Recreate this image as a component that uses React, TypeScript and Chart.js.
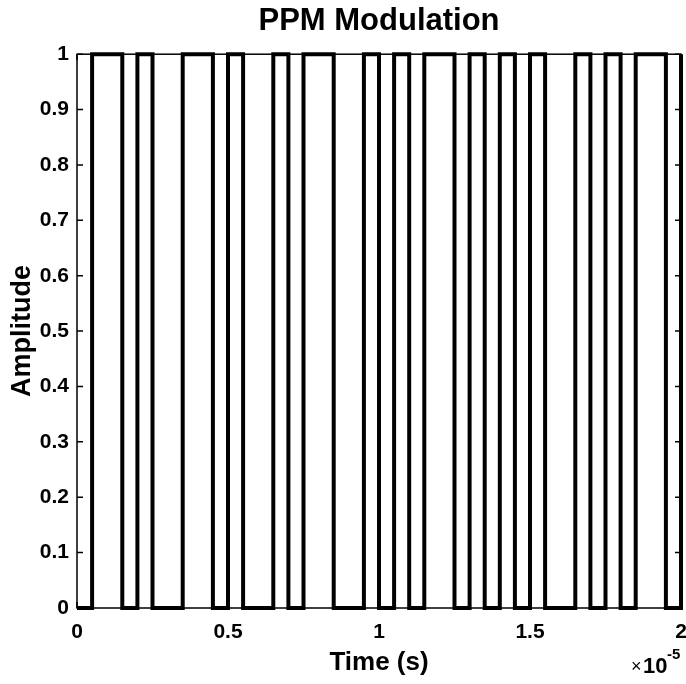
import React, { useEffect, useRef } from "react";
import { Chart, registerables } from "chart.js";

Chart.register(...registerables);

// Pulse edges, in microseconds
const pulseStarts = [0.5, 2, 3.5, 5, 6.5, 7.5, 9.5, 10.5, 11.5, 13, 14, 15, 16.5, 17.5, 18.5];
const pulseEnds = [1.5, 2.5, 4.5, 5.5, 7, 8.5, 10, 11, 12.5, 13.5, 14.5, 15.5, 17, 18, 19.5];
const finalRise = 20;
const xTicks = [0, 0.5, 1, 1.5, 2];
const yTicks = [0, 0.1, 0.2, 0.3, 0.4, 0.5, 0.6, 0.7, 0.8, 0.9, 1];

const FONT = "'Liberation Sans', Arial, Helvetica, sans-serif";

function buildPoints() {
  const pts: { x: number; y: number }[] = [{ x: 0, y: 0 }];
  for (let i = 0; i < pulseStarts.length; i++) {
    const s = pulseStarts[i] / 10;
    const e = pulseEnds[i] / 10;
    pts.push({ x: s, y: 0 }, { x: s, y: 1 }, { x: e, y: 1 }, { x: e, y: 0 });
  }
  pts.push({ x: finalRise / 10, y: 0 }, { x: finalRise / 10, y: 1 });
  return pts;
}

const fmt = (v: number) => String(Math.round(v * 10) / 10);

const boxPlugin = {
  id: "matlabBox",
  afterDraw(chart: any) {
    const { ctx, chartArea, scales } = chart;
    const { left, right, top, bottom } = chartArea;
    ctx.save();
    ctx.strokeStyle = "#000";
    ctx.lineWidth = 1.5;
    ctx.strokeRect(left, top, right - left, bottom - top);
    const tl = 6;
    ctx.beginPath();
    for (const v of xTicks) {
      const px = scales.x.getPixelForValue(v);
      ctx.moveTo(px, bottom);
      ctx.lineTo(px, bottom - tl);
      ctx.moveTo(px, top);
      ctx.lineTo(px, top + tl);
    }
    for (const v of yTicks) {
      const py = scales.y.getPixelForValue(v);
      ctx.moveTo(left, py);
      ctx.lineTo(left + tl, py);
      ctx.moveTo(right, py);
      ctx.lineTo(right - tl, py);
    }
    ctx.stroke();
    // exponent label
    ctx.fillStyle = "#000";
    ctx.textBaseline = "alphabetic";
    ctx.textAlign = "left";
    ctx.font = `18px ${FONT}`;
    ctx.fillText("\u00d7", right - 50, 672);
    ctx.font = `bold 22px ${FONT}`;
    ctx.fillText("10", right - 38, 673);
    ctx.font = `bold 15px ${FONT}`;
    ctx.fillText("-5", right - 14, 659);
    ctx.restore();
  },
};

export default function App() {
  const ref = useRef<HTMLCanvasElement>(null);
  useEffect(() => {
    if (!ref.current) return;
    const chart = new Chart(ref.current, {
      type: "line",
      data: {
        datasets: [
          {
            data: buildPoints(),
            borderColor: "#000",
            borderWidth: 4,
            pointRadius: 0,
            tension: 0,
            fill: false,
            clip: 6,
          },
        ],
      },
      options: {
        animation: false,
        responsive: false,
        parsing: false as any,
        layout: { padding: { left: 0, right: 5, top: 0, bottom: 0 } },
        plugins: {
          legend: { display: false },
          tooltip: { enabled: false },
          title: {
            display: true,
            text: "PPM Modulation",
            color: "#000",
            fullSize: false,
            font: { family: FONT, size: 31, weight: "bold" },
            padding: { top: 3, bottom: 14 },
          },
        },
        scales: {
          x: {
            type: "linear",
            min: 0,
            max: 2,
            afterFit: (s: any) => {
              s.height = 76;
              s.paddingLeft = 0;
              s.paddingRight = 0;
            },
            afterBuildTicks: (s: any) => {
              s.ticks = xTicks.map((v) => ({ value: v }));
            },
            ticks: {
              color: "#000",
              padding: 12,
              maxRotation: 0,
              callback: (v: any) => fmt(Number(v)),
              font: { family: FONT, size: 21, weight: "bold" },
            },
            grid: { display: false, drawTicks: false },
            border: { display: false },
            title: {
              display: true,
              text: "Time (s)",
              color: "#000",
              font: { family: FONT, size: 26, weight: "bold" },
              padding: { top: 0, bottom: 6 },
            },
          },
          y: {
            type: "linear",
            min: 0,
            max: 1,
            afterFit: (s: any) => {
              s.width = 77;
              s.paddingTop = 0;
              s.paddingBottom = 0;
            },
            afterBuildTicks: (s: any) => {
              s.ticks = yTicks.map((v) => ({ value: v }));
            },
            ticks: {
              color: "#000",
              padding: 8,
              callback: (v: any) => fmt(Number(v)),
              font: { family: FONT, size: 21, weight: "bold" },
            },
            grid: { display: false, drawTicks: false },
            border: { display: false },
            title: {
              display: true,
              text: "Amplitude",
              color: "#000",
              font: { family: FONT, size: 27, weight: "bold" },
              padding: { top: 6, bottom: 0 },
            },
          },
        },
      },
      plugins: [boxPlugin],
    });
    return () => chart.destroy();
  }, []);
  return (
    <div style={{ position: "fixed", left: 0, top: 0, width: 686, height: 684, background: "#fff" }}>
      <canvas ref={ref} width={686} height={684} style={{ width: 686, height: 684 }} />
    </div>
  );
}
